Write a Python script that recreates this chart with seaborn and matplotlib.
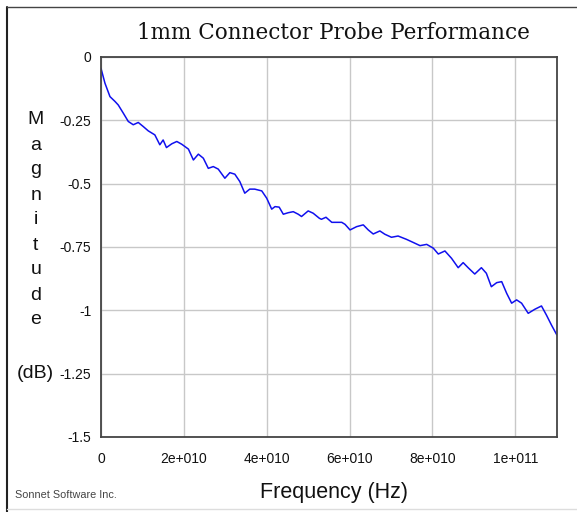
import pandas as pd
import seaborn as sns
import matplotlib.pyplot as plt
from matplotlib.lines import Line2D

# Data
freq_ghz = [0, 0.96, 2.17, 3.38, 4.17, 5.38, 6.59, 7.79, 9.0, 10.2, 11.4, 13.0, 14.2, 15.0,
            15.8, 17.1, 18.3, 19.5, 21.1, 22.3, 23.5, 24.7, 25.9, 27.1, 28.3, 29.9, 31.1,
            32.3, 33.5, 34.7, 35.9, 37.1, 38.8, 40.0, 41.2, 42.0, 43.0, 44.0, 45.2, 46.4,
            47.6, 48.4, 50.0, 51.2, 52.7, 53.2, 54.3, 55.7, 58.1, 58.9, 60.1, 61.7, 63.3,
            64.5, 65.7, 67.3, 68.5, 70.1, 71.7, 73.7, 75.3, 77.0, 78.6, 80.2, 81.4, 83.0,
            84.6, 86.2, 87.4, 88.6, 90.2, 91.8, 93.0, 94.2, 95.5, 96.7, 97.9, 99.1, 100.3,
            101.5, 103.1, 104.7, 106.3, 107.5, 108.7, 110.0]
magnitude_db = [-0.045, -0.104, -0.157, -0.176, -0.19, -0.222, -0.255, -0.268, -0.259, -0.275,
                -0.292, -0.308, -0.347, -0.328, -0.358, -0.343, -0.334, -0.345, -0.364, -0.407,
                -0.384, -0.40, -0.44, -0.433, -0.443, -0.479, -0.457, -0.463, -0.492, -0.538,
                -0.522, -0.522, -0.529, -0.558, -0.601, -0.591, -0.593, -0.621, -0.615, -0.611,
                -0.621, -0.63, -0.608, -0.617, -0.637, -0.641, -0.633, -0.653, -0.653, -0.661,
                -0.683, -0.67, -0.663, -0.683, -0.699, -0.687, -0.70, -0.712, -0.707, -0.72,
                -0.732, -0.745, -0.74, -0.755, -0.778, -0.766, -0.795, -0.832, -0.812, -0.832,
                -0.857, -0.832, -0.854, -0.907, -0.891, -0.887, -0.933, -0.972, -0.959, -0.972,
                -1.012, -0.996, -0.983, -1.019, -1.058, -1.097]

x_ticks = [0, 2e10, 4e10, 6e10, 8e10, 1e11]
x_tick_labels = ["0", "2e+010", "4e+010", "6e+010", "8e+010", "1e+011"]
y_ticks = [0, -0.25, -0.5, -0.75, -1, -1.25, -1.5]
y_tick_labels = ["0", "-0.25", "-0.5", "-0.75", "-1", "-1.25", "-1.5"]

df = pd.DataFrame({"freq": [f * 1e9 for f in freq_ghz], "mag": magnitude_db})

sns.set_style("white")
plt.rcParams['font.family'] = ['Liberation Sans', 'DejaVu Sans']

fig = plt.figure(figsize=(5.77, 5.12), dpi=100)
ax = fig.add_axes([0.175, 0.1465, 0.79, 0.7425])

sns.lineplot(data=df, x="freq", y="mag", ax=ax, color="#1010ee", linewidth=1.1)

ax.set_xlim(0, 1.1e11)
ax.set_ylim(-1.5, 0)
ax.set_xticks(x_ticks)
ax.set_xticklabels(x_tick_labels)
ax.set_yticks(y_ticks)
ax.set_yticklabels(y_tick_labels)
ax.tick_params(axis='both', labelsize=10, length=5, width=0.8, color="#aaaaaa",
               direction='out', pad=2, labelcolor="#111111")
ax.tick_params(axis='x', pad=6)
ax.grid(True, color="#c8c8c8", linewidth=1.0)
ax.set_xlabel("")
ax.set_ylabel("")
for side in ["left", "bottom", "top", "right"]:
    ax.spines[side].set_visible(True)
    ax.spines[side].set_color("#444444")
    ax.spines[side].set_linewidth(1.3)

# Title and labels
fig.text(0.578, 0.935, "1mm Connector Probe Performance", ha='center', va='center',
         fontsize=15.5, family=['DejaVu Serif'], color="#111111")
fig.text(0.578, 0.038, "Frequency (Hz)", ha='center', va='center', fontsize=15.5,
         color="#111111")
fig.text(0.026, 0.033, "Sonnet Software Inc.", ha='left', va='center', fontsize=7.8,
         color="#444444")

letters = "Magnitude"
for i, ch in enumerate(letters):
    fig.text(0.062, (512 - 120 - i * 25) / 512, ch, ha='center', va='center',
             fontsize=14, color="#111111")
fig.text(0.061, (512 - 373) / 512, "(dB)", ha='center', va='center', fontsize=14,
         color="#111111")

# Outer frame lines
fig.add_artist(Line2D([7 / 577, 7 / 577], [0, 505 / 512], color="#222222", linewidth=1.5))
fig.add_artist(Line2D([7 / 577, 1], [505 / 512, 505 / 512], color="#444444", linewidth=1.0))
fig.add_artist(Line2D([7 / 577, 1], [3 / 512, 3 / 512], color="#dddddd", linewidth=1.0))

fig.savefig("out.png", dpi=100)
